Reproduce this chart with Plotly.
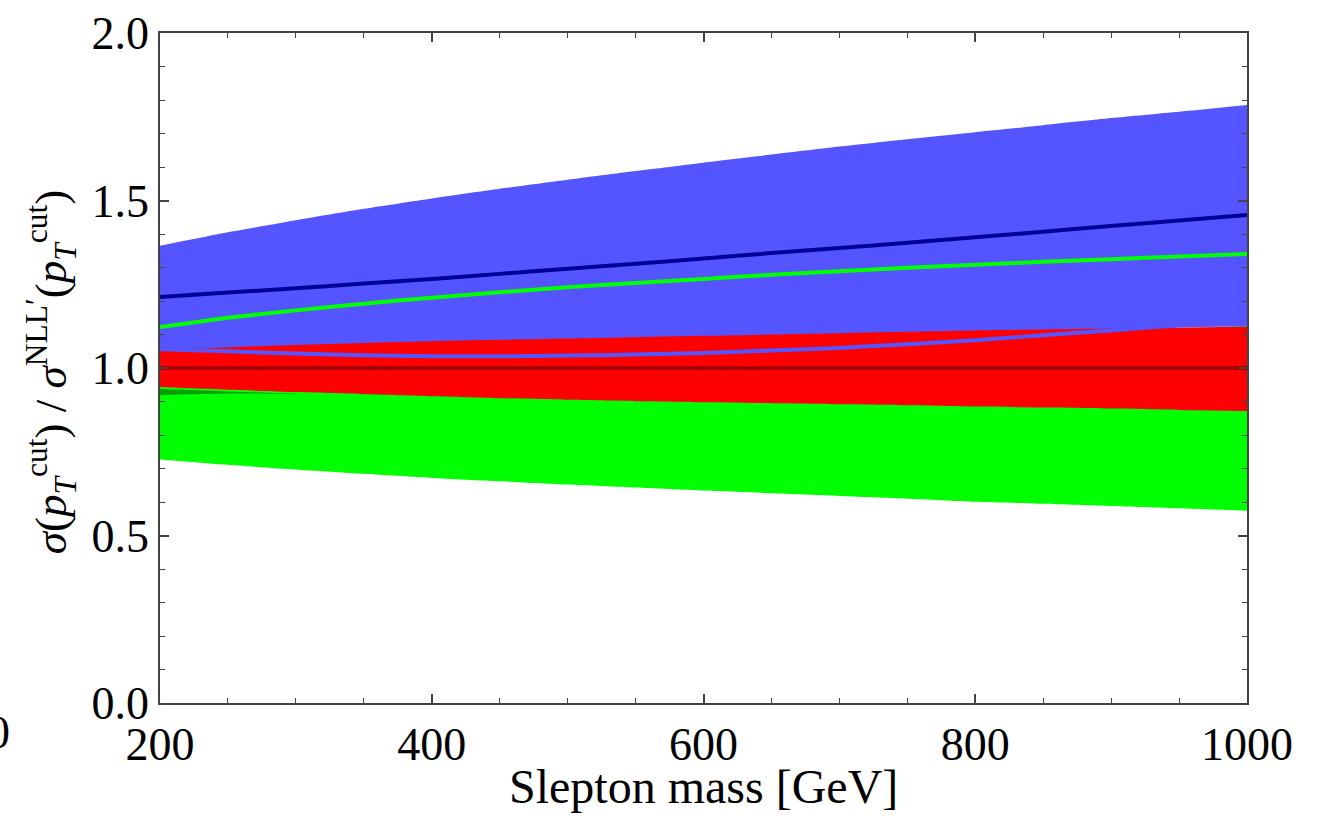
import plotly.graph_objects as go

# ---------------- data ----------------
mass = [200, 250, 300, 350, 400, 450, 500, 550, 600, 650, 700, 750, 800, 850, 900, 950, 1000]

blue_hi = [1.365, 1.405, 1.441, 1.475, 1.506, 1.535, 1.562, 1.588, 1.613, 1.637, 1.661, 1.683, 1.704, 1.725, 1.746, 1.765, 1.785]
blue_lo = [1.056, 1.050, 1.043, 1.038, 1.035, 1.035, 1.037, 1.040, 1.045, 1.052, 1.060, 1.071, 1.083, 1.098, 1.112, 1.127, 1.130]
blue_mid = [1.212, 1.225, 1.238, 1.252, 1.266, 1.281, 1.296, 1.311, 1.327, 1.343, 1.358, 1.374, 1.390, 1.407, 1.424, 1.440, 1.457]

red_hi = [1.054, 1.062, 1.069, 1.075, 1.080, 1.084, 1.088, 1.092, 1.096, 1.100, 1.104, 1.108, 1.112, 1.115, 1.118, 1.121, 1.123]
red_lo = [0.943, 0.935, 0.928, 0.922, 0.916, 0.910, 0.905, 0.901, 0.898, 0.895, 0.892, 0.889, 0.885, 0.882, 0.879, 0.875, 0.872]
red_mid = [1.0] * len(mass)

green_hi = [0.945, 0.960, 0.975, 0.990, 1.000, 1.010, 1.020, 1.030, 1.040, 1.050, 1.060, 1.070, 1.080, 1.090, 1.100, 1.110, 1.128]
green_lo = [0.727, 0.711, 0.697, 0.684, 0.672, 0.662, 0.652, 0.643, 0.634, 0.626, 0.618, 0.610, 0.601, 0.595, 0.588, 0.581, 0.574]
green_mid = [1.122, 1.150, 1.172, 1.192, 1.210, 1.226, 1.241, 1.254, 1.266, 1.278, 1.289, 1.299, 1.308, 1.317, 1.325, 1.333, 1.340]

# dark green sliver under the red band at low mass
dg_mass = [200, 250, 300]
dg_hi = [0.937, 0.930, 0.923]
dg_lo = [0.919, 0.924, 0.922]

x_ticks = [200, 400, 600, 800, 1000]
y_ticks = [0.0, 0.5, 1.0, 1.5, 2.0]

BLUE = "#5555FF"
RED = "#FF0000"
GREEN = "#00FF00"
SERIF = "Liberation Serif, Times New Roman, serif"
SPL = dict(shape="spline", smoothing=0.6)


def band(fig, xs, lo, hi, color):
    fig.add_trace(go.Scatter(x=xs, y=lo, mode="lines", line=dict(width=0, **SPL),
                             hoverinfo="skip", showlegend=False))
    fig.add_trace(go.Scatter(x=xs, y=hi, mode="lines", line=dict(width=0, **SPL),
                             fill="tonexty", fillcolor=color,
                             hoverinfo="skip", showlegend=False))


def curve(fig, xs, ys, color, width):
    fig.add_trace(go.Scatter(x=xs, y=ys, mode="lines",
                             line=dict(color=color, width=width, **SPL),
                             hoverinfo="skip", showlegend=False))


fig = go.Figure()
band(fig, mass, blue_lo, blue_hi, BLUE)
band(fig, mass, green_lo, green_hi, GREEN)
band(fig, mass, red_lo, red_hi, RED)
band(fig, dg_mass, dg_lo, dg_hi, "#00A000")
curve(fig, mass, blue_lo, BLUE, 4)
curve(fig, mass, red_mid, "#AA0000", 4)
curve(fig, mass, blue_mid, "#000099", 4)
curve(fig, mass, green_mid, GREEN, 4)

axis_common = dict(
    showline=True, linecolor="#444444", linewidth=1.5, mirror="ticks",
    ticks="inside", tickcolor="#444444", tickwidth=1.5, ticklen=9,
    showgrid=False, zeroline=False, automargin=False,
    tickfont=dict(family=SERIF, size=46, color="black"),
)

fig.update_layout(
    width=1323, height=822,
    margin=dict(l=160, r=76, t=33, b=119, autoexpand=False),
    paper_bgcolor="white", plot_bgcolor="white",
    xaxis=dict(range=[200, 1000], tickvals=x_ticks, ticktext=[str(v) for v in x_ticks],
               minor=dict(dtick=50, ticks="inside", ticklen=5, tickcolor="#444444", tickwidth=1.2),
               **axis_common),
    yaxis=dict(range=[0, 2], tickvals=y_ticks, ticktext=[f"{v:.1f}" for v in y_ticks],
               minor=dict(dtick=0.1, ticks="inside", ticklen=5, tickcolor="#444444", tickwidth=1.2),
               **axis_common),
    annotations=[
        dict(text="Slepton mass [GeV]", xref="paper", yref="paper", x=0.5, y=-0.124,
             xanchor="center", yanchor="middle", showarrow=False,
             font=dict(family=SERIF, size=48, color="black")),
        dict(text="<i>σ</i>(<i>p</i><sub><i>T</i></sub><sup>cut</sup>) / <i>σ</i><sup>NLL′</sup>(<i>p</i><sub><i>T</i></sub><sup>cut</sup>)",
             xref="paper", yref="paper", x=-0.101, y=0.494, textangle=-90,
             xanchor="center", yanchor="middle", showarrow=False,
             font=dict(family=SERIF, size=45, color="black")),
        dict(text="0", xref="paper", yref="paper", x=(12 - 160) / 1087, y=(703 - 732) / 670,
             xanchor="right", yanchor="middle", showarrow=False,
             font=dict(family=SERIF, size=46, color="black")),
    ],
)

fig.write_html("out.html", config={"displayModeBar": False},
               post_script="document.body.style.margin='0';")
